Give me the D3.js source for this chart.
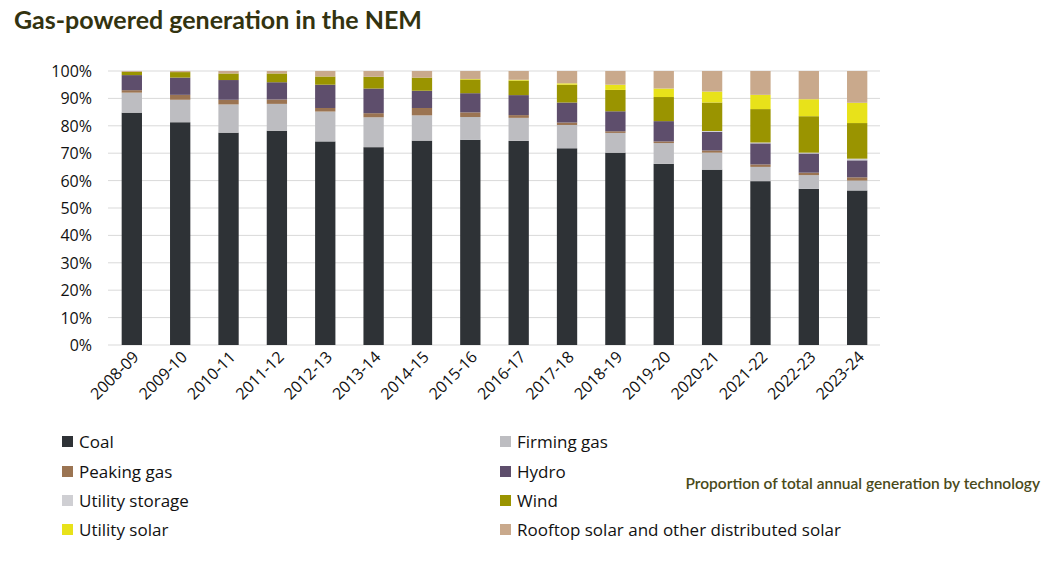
<!DOCTYPE html><html><head><meta charset="utf-8"><script src="https://cdn.jsdelivr.net/npm/d3@7"></script>
<style>body{margin:0;background:#fff;font-family:Lato,"Open Sans",sans-serif}</style></head><body><svg id="c" width="1043" height="565"></svg>
<script>
const years=["2008-09","2009-10","2010-11","2011-12","2012-13","2013-14","2014-15","2015-16","2016-17","2017-18","2018-19","2019-20","2020-21","2021-22","2022-23","2023-24"];
const seriesNames=["Coal","Firming gas","Peaking gas","Hydro","Utility storage","Wind","Utility solar","Rooftop solar and other distributed solar"];
const coal=[84.8,81.3,77.5,78.2,74.3,72.2,74.6,74.9,74.5,71.8,70.2,66.1,64.0,59.8,57.0,56.4];
const firming=[7.3,8.2,10.3,9.8,10.9,10.9,9.2,8.3,8.4,8.5,7.2,7.6,6.2,5.2,5.0,3.6];
const peaking=[0.9,1.8,1.7,1.6,1.3,1.5,2.7,1.7,1.0,0.9,0.6,0.6,0.8,0.9,0.9,1.2];
const hydro=[5.5,6.3,7.2,6.3,8.5,9.0,6.3,7.0,7.3,7.3,7.3,7.4,6.8,7.7,7.0,6.2];
const storage=[0,0,0,0,0,0,0,0,0,0,0,0,0.3,0.3,0.3,0.6];
const wind=[1.2,2.0,2.4,3.2,3.0,4.3,4.8,5.0,5.3,6.5,7.8,8.8,10.4,12.2,13.3,13.0];
const usolar=[0,0,0,0,0,0,0,0.2,0.3,0.5,1.9,3.1,4.0,5.2,6.2,7.4];
const rooftop=[0.3,0.4,0.9,0.9,2.0,2.1,2.4,2.9,3.2,4.5,5.0,6.4,7.5,8.7,10.3,11.6];
const yTicks=[0,10,20,30,40,50,60,70,80,90,100];
const colors=["#2e3236","#bdbdc1","#9b7452","#5e4e6c","#cfcfd3","#9a9400","#e8e21a","#c9a98c"];
const all=[coal,firming,peaking,hydro,storage,wind,usolar,rooftop];
const data=years.map((y,i)=>{const o={year:y};seriesNames.forEach((s,k)=>o[s]=all[k][i]);return o;});
const stack=d3.stack().keys(seriesNames)(data);
const svg=d3.select("#c");
const x=d3.scaleBand().domain(years).range([112,877]).paddingInner(0.58).paddingOuter(0.2);
const y=d3.scaleLinear().domain([0,100]).range([345,71]);
svg.append("text").attr("x",14).attr("y",29).attr("font-size",25).attr("fill","#333310").attr("font-weight",700).text("Gas-powered generation in the NEM");
svg.append("g").selectAll("line").data(yTicks).join("line").attr("x1",108).attr("x2",880).attr("y1",d=>y(d)).attr("y2",d=>y(d)).attr("stroke","#d9d9d9").attr("stroke-width",1);
svg.append("g").selectAll("text").data(yTicks).join("text").attr("x",92).attr("y",d=>y(d)+6).attr("text-anchor","end").attr("font-size",16).attr("font-family","Open Sans").attr("fill","#111").text(d=>d+"%");
svg.append("g").selectAll("g").data(stack).join("g").attr("fill",(d,i)=>colors[i]).selectAll("rect").data(d=>d).join("rect")
 .attr("x",d=>x(d.data.year)).attr("width",x.bandwidth()).attr("y",d=>y(d[1])).attr("height",d=>y(d[0])-y(d[1]));
svg.append("g").selectAll("text").data(years).join("text").attr("text-anchor","end").attr("font-size",16).attr("font-family","Open Sans").attr("fill","#111")
 .attr("transform",d=>`translate(${x(d)+x.bandwidth()/2+8},${358}) rotate(-45)`).text(d=>d);
const legPos=[[62,442],[500,442],[62,472],[500,472],[62,501],[500,501],[62,530],[500,530]];
const lg=svg.append("g").selectAll("g").data(seriesNames).join("g").attr("transform",(d,i)=>`translate(${legPos[i][0]},${legPos[i][1]})`);
lg.append("rect").attr("x",0).attr("y",-6).attr("width",11).attr("height",11).attr("fill",(d,i)=>colors[i]);
lg.append("text").attr("x",17).attr("y",6).attr("font-size",17).attr("font-family","Open Sans").attr("fill","#111").text(d=>d);
svg.append("text").attr("x",1040).attr("y",489).attr("text-anchor","end").attr("font-size",15.5).attr("font-weight",600).attr("fill","#4a4a1a").text("Proportion of total annual generation by technology");
</script></body></html>
